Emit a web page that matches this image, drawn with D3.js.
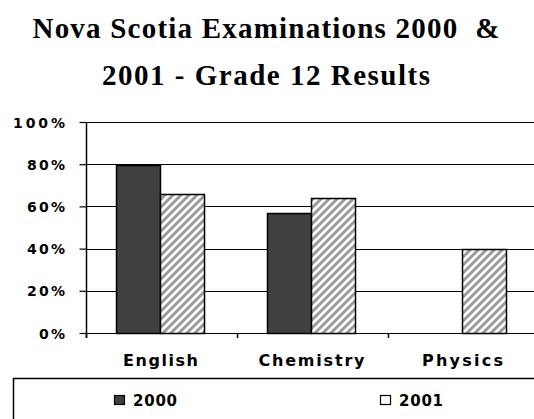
<!DOCTYPE html>
<html>
<head>
<meta charset="utf-8">
<script src="https://cdn.jsdelivr.net/npm/d3@7"></script>
<style>
  html, body { margin: 0; padding: 0; background: #fff; }
  svg { display: block; }
</style>
</head>
<body>
<svg id="chart" width="534" height="419"></svg>
<script>
const titleLines = ["Nova Scotia Examinations 2000  &", "2001 - Grade 12 Results"];
const categories = ["English", "Chemistry", "Physics"];
const seriesNames = ["2000", "2001"];
const values2000 = [0.795, 0.57, null];
const values2001 = [0.66, 0.642, 0.397];
const yTicks = [0, 0.2, 0.4, 0.6, 0.8, 1.0];
const yTickLabels = ["0%", "20%", "40%", "60%", "80%", "100%"];

const svg = d3.select("#chart");
const W = 534, H = 419;

// pattern for 2001
const defs = svg.append("defs");
const pat = defs.append("pattern")
  .attr("id", "hatch")
  .attr("patternUnits", "userSpaceOnUse")
  .attr("width", 8).attr("height", 8);
pat.append("rect").attr("width", 8).attr("height", 8).attr("fill", "#fff");
pat.append("path")
  .attr("d", "M-2,2 L2,-2 M0,8 L8,0 M6,10 L10,6")
  .attr("stroke", "#9a9a9a").attr("stroke-width", 3);

// title
const titleFont = "'Liberation Serif', 'Times New Roman', serif";
const titleWidths = [467, 328];
const titleY = [38, 85];
titleLines.forEach((t, i) => {
  svg.append("text")
    .attr("x", 266).attr("y", titleY[i])
    .attr("text-anchor", "middle")
    .attr("font-family", titleFont)
    .attr("font-weight", "bold")
    .attr("font-size", 29)
    .attr("textLength", titleWidths[i])
    .attr("lengthAdjust", "spacing")
    .style("white-space", "pre")
    .attr("fill", "#000")
    .text(t);
});

// scales
const y = d3.scaleLinear().domain([0, 1]).range([333, 122]);
const x0 = d3.scaleBand().domain(categories).range([86, 539]).paddingInner(0).paddingOuter(0);
const groupW = 88;
const x1 = d3.scaleBand().domain(seriesNames).range([0, groupW]);

const labelFont = "'DejaVu Sans', Verdana, sans-serif";

// gridlines
svg.append("g").selectAll("line")
  .data(yTicks)
  .join("line")
  .attr("x1", 86).attr("x2", W + 10)
  .attr("y1", d => Math.round(y(d)) + 0.5).attr("y2", d => Math.round(y(d)) + 0.5)
  .attr("stroke", "#000").attr("stroke-width", 1.2);

// y axis
const yAxis = d3.axisLeft(y).tickValues(yTicks).tickSize(7).tickFormat("");
const gy = svg.append("g").attr("transform", "translate(86.5,0)").call(yAxis);
gy.select(".domain").attr("stroke", "#000").attr("stroke-width", 1.5).attr("d", "M0,122V338");
gy.selectAll(".tick line").attr("stroke", "#000").attr("stroke-width", 1.2);

const yLabelW = { "0%": 26, "20%": 38, "40%": 38, "60%": 38, "80%": 38, "100%": 52 };
svg.append("g").selectAll("text")
  .data(yTicks)
  .join("text")
  .attr("x", 65)
  .attr("y", d => y(d) + 5.5)
  .attr("text-anchor", "end")
  .attr("font-family", labelFont)
  .attr("font-weight", "bold")
  .attr("font-size", 14)
  .attr("textLength", (d, i) => yLabelW[yTickLabels[i]])
  .attr("lengthAdjust", "spacing")
  .text((d, i) => yTickLabels[i]);

// x axis ticks at category boundaries
const gx = svg.append("g").attr("transform", "translate(0,333)");
const bounds = categories.map(c => x0(c));
gx.selectAll("line")
  .data(bounds)
  .join("line")
  .attr("x1", d => d + 0.5).attr("x2", d => d + 0.5)
  .attr("y1", 0).attr("y2", 5)
  .attr("stroke", "#000").attr("stroke-width", 1.5);

const catW = { "English": 75, "Chemistry": 106, "Physics": 81 };
svg.append("g").selectAll("text")
  .data(categories)
  .join("text")
  .attr("x", d => x0(d) + x0.bandwidth() / 2 - 1)
  .attr("y", 366)
  .attr("text-anchor", "middle")
  .attr("font-family", labelFont)
  .attr("font-weight", "bold")
  .attr("font-size", 16)
  .attr("textLength", d => catW[d])
  .attr("lengthAdjust", "spacing")
  .text(d => d);

// bars
const rows = categories.map((c, i) => ({ cat: c, vals: [values2000[i], values2001[i]] }));
const fills = ["#404040", "url(#hatch)"];
const g = svg.append("g");
rows.forEach(r => {
  const gx0 = x0(r.cat) + (x0.bandwidth() - groupW) / 2 - 1.5;
  r.vals.forEach((v, j) => {
    if (v == null) return;
    g.append("rect")
      .attr("x", Math.round(gx0 + x1(seriesNames[j])) + 0.5)
      .attr("y", Math.round(y(v)) + 0.5)
      .attr("width", Math.round(x1.bandwidth()))
      .attr("height", Math.round(y(0)) - Math.round(y(v)))
      .attr("fill", fills[j])
      .attr("stroke", "#000")
      .attr("stroke-width", 1.5);
  });
});

// legend
svg.append("rect")
  .attr("x", 13.5).attr("y", 378.5)
  .attr("width", W + 20).attr("height", 80)
  .attr("fill", "#fff").attr("stroke", "#000").attr("stroke-width", 1.5);
const legX = [114, 380];
const legFill = ["#404040", "#fff"];
seriesNames.forEach((s, i) => {
  svg.append("rect")
    .attr("x", legX[i] + 0.5).attr("y", 395.5)
    .attr("width", 10).attr("height", 9)
    .attr("fill", legFill[i]).attr("stroke", "#000").attr("stroke-width", 1.2);
  svg.append("text")
    .attr("x", legX[i] + 19).attr("y", 405.5)
    .attr("font-family", labelFont)
    .attr("font-weight", "bold")
    .attr("font-size", 15)
    .attr("textLength", 44)
    .attr("lengthAdjust", "spacing")
    .text(s);
});
</script>
</body>
</html>
